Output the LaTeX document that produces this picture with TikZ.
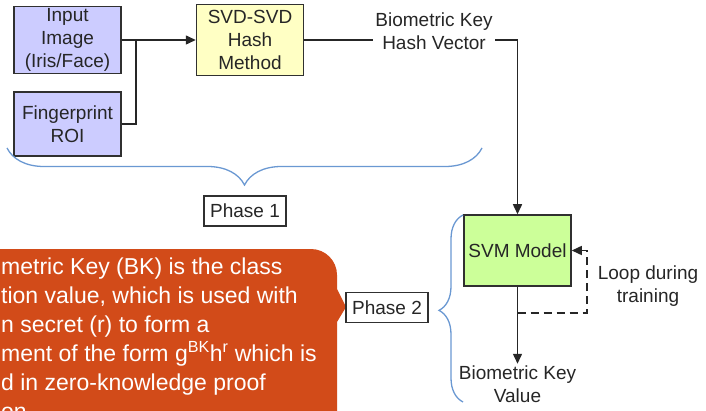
\documentclass[tikz,border=0pt]{standalone}
\usepackage{fontspec}
\setmainfont{Liberation Sans}
\usetikzlibrary{arrows.meta, positioning, decorations.pathreplacing}

\definecolor{boxline}{HTML}{303030}
\definecolor{inputfill}{HTML}{CCCCFF}
\definecolor{hashfill}{HTML}{FFFFC4}
\definecolor{svmfill}{HTML}{CCFF99}
\definecolor{bracecol}{HTML}{6A98D2}
\definecolor{notefill}{HTML}{D24B19}

\begin{document}
\begin{tikzpicture}[
    x=1pt, y=1pt,
    font=\fontsize{19}{23}\selectfont,
    text=black!85,
    block/.style={
        draw=boxline,
        line width=1.5pt,
        align=center,
        minimum width=107pt,
        inner sep=2pt
    },
    tag/.style={
        draw=boxline,
        line width=1.2pt,
        fill=white,
        minimum width=82pt,
        minimum height=30pt,
        inner sep=2pt
    },
    label/.style={align=center, inner sep=2pt},
    flow/.style={-{Triangle[length=10pt, width=9pt]}, line width=1.5pt, draw=black!85},
    trainloop/.style={flow, dash pattern=on 8pt off 5pt},
    phasebrace/.style={
        draw=bracecol,
        line width=1.3pt,
        decorate
    }
]
    \clip (0,0) rectangle (706,410);

    % note box on the left, running off the page
    \fill[notefill] (-30,-30) -- (-30,161) [rounded corners=26pt] -- (337,161)
        [sharp corners] -- (337,121) -- (346,103) -- (337,88) -- (337,-30) -- cycle;
    \node[anchor=north west, align=left, text=white, inner sep=0pt,
          font=\fontsize{23}{29}\selectfont] (note) at (1,152)
        {metric Key (BK) is the class\\
         tion value, which is used with\\
         n secret (r) to form a\\
         ment of the form g\textsuperscript{BK}h\textsuperscript{r} which is\\
         d in zero-knowledge proof\\
         on};

    % phase 1
    \node[block, fill=inputfill, minimum height=64pt] (inp) at (67.5,370) {Input\\Image\\(Iris/Face)};
    \node[block, fill=inputfill, minimum height=64pt, below=17pt of inp] (fp) {Fingerprint\\ROI};
    \node[block, fill=hashfill, minimum height=71pt, right=74pt of inp] (svd) {SVD-SVD\\Hash\\Method};
    \coordinate (join) at ([xshift=14pt]inp.east);

    % phase 2
    \node[block, fill=svmfill, minimum height=71pt] (svm) at (517.5,159.5) {SVM Model};
    \node[label, below=77pt of svm] (bkv) {Biometric Key\\Value};
    \coordinate (tap) at ([yshift=-26pt]svm.south);

    \draw[flow] (inp.east) -- (svd.west);
    \draw[line width=1.5pt, draw=black!85] (fp.east) -| (join);
    \draw[flow] (svd.east) -| (svm.north);
    \node[label, fill=white] (hvec) at (434,378.5) {Biometric Key\\Hash Vector};
    \draw[flow] (svm.south) -- (bkv.north);
    \draw[trainloop] (tap) -| ([xshift=15pt]svm.east) -- (svm.east);
    \node[label] (looplbl) at (648,124) {Loop during\\training};

    % phase braces and tags
    \draw[phasebrace, decoration={brace, mirror, amplitude=37pt, aspect=0.5}] (7,262) -- (482,262);
    \node[tag] (ph1) at (245,199) {Phase 1};
    \draw[phasebrace, decoration={brace, amplitude=24pt, aspect=0.49}] (463,8) -- (463,195);
    \node[tag] (ph2) at (387,102.5) {Phase 2};
\end{tikzpicture}
\end{document}
